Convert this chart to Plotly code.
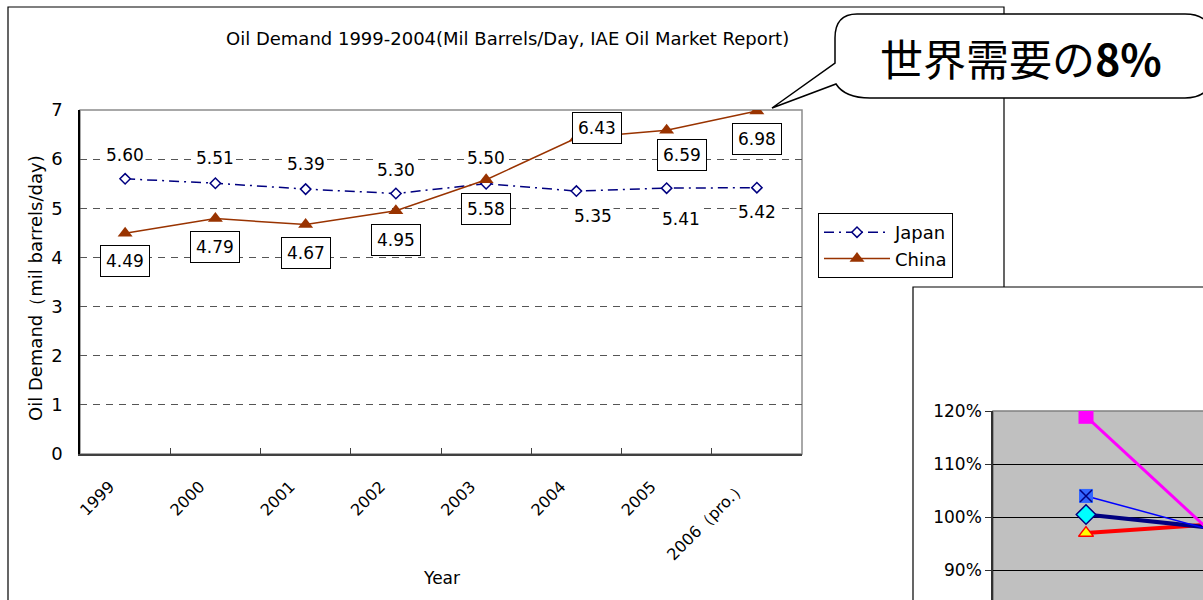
import plotly.graph_objects as go

W, H = 1203, 600

years = ["1999", "2000", "2001", "2002", "2003", "2004", "2005", "2006（pro.）"]
japan = [5.60, 5.51, 5.39, 5.30, 5.50, 5.35, 5.41, 5.42]
china = [4.49, 4.79, 4.67, 4.95, 5.58, 6.43, 6.59, 6.98]

# label offsets (px) relative to each point
japan_shift = [(0, 24), (0, 25), (0, 25), (0, 24), (0, 26), (17, -25), (14, -31), (0, -24)]
china_shift = [(0, -28), (0, -28), (0, -28), (0, -29), (0, -29), (21, 10), (15, -25), (0, -28)]

# partial second chart (right-bottom corner)
idx2 = [0, 1]
pink = [119.0, 86.6]
blue = [104.0, 94.5]
navy = [100.5, 96.8]
red = [97.0, 99.4]
pct_ticks = [90, 100, 110, 120]
pct_text = ["90%", "100%", "110%", "120%"]

FONT = "DejaVu Sans"


def px(x):
    return x / W


def py(y):
    return 1 - y / H


fig = go.Figure()

fig.add_trace(go.Scatter(
    x=list(range(len(years))), y=japan, name="Japan", mode="lines+markers",
    line=dict(color="#000080", width=1.5, dash="10px,5px,2px,5px"),
    marker=dict(symbol="diamond", size=8, color="white",
                line=dict(color="#000080", width=1.5))
))
fig.add_trace(go.Scatter(
    x=list(range(len(years))), y=china, name="China", mode="lines+markers",
    line=dict(color="#993300", width=1.5),
    marker=dict(symbol="triangle-up", size=13, color="#993300")
))

# second chart
fig.add_trace(go.Scatter(x=idx2, y=red, xaxis="x2", yaxis="y2", showlegend=False,
                         mode="lines+markers", line=dict(color="#FF0000", width=4),
                         marker=dict(symbol="triangle-up", size=13, color="#FFFF00",
                                     line=dict(color="#FF0000", width=1.5))))
fig.add_trace(go.Scatter(x=idx2, y=navy, xaxis="x2", yaxis="y2", showlegend=False,
                         mode="lines+markers", line=dict(color="#000080", width=4),
                         marker=dict(symbol="diamond", size=15, color="#00FFFF",
                                     line=dict(color="#000080", width=1.5))))
fig.add_trace(go.Scatter(x=idx2, y=blue, xaxis="x2", yaxis="y2", showlegend=False,
                         mode="lines+markers", line=dict(color="#0000FF", width=1.5),
                         marker=dict(symbol="square", size=14, color="#3366FF")))
fig.add_trace(go.Scatter(x=idx2, y=blue, xaxis="x2", yaxis="y2", showlegend=False,
                         mode="markers",
                         marker=dict(symbol="x-thin", size=12, color="#000080",
                                     line=dict(color="#000080", width=1.5))))
fig.add_trace(go.Scatter(x=idx2, y=pink, xaxis="x2", yaxis="y2", showlegend=False,
                         mode="lines+markers", line=dict(color="#FF00FF", width=3),
                         marker=dict(symbol="square", size=15, color="#FF00FF")))

# dummy trace so the boundary-tick axis is drawn
fig.add_trace(go.Scatter(x=[None], y=[None], xaxis="x3", yaxis="y", showlegend=False,
                         hoverinfo="skip"))

# value labels
for i, v in enumerate(japan):
    fig.add_annotation(x=i, y=v, text=f"{v:.2f}", showarrow=False,
                       xanchor="center", yanchor="middle",
                       xshift=japan_shift[i][0], yshift=japan_shift[i][1],
                       bgcolor="white", font=dict(size=17, color="black", family=FONT))
for i, v in enumerate(china):
    fig.add_annotation(x=i, y=v, text=f"{v:.2f}", showarrow=False,
                       xanchor="center", yanchor="middle",
                       xshift=china_shift[i][0], yshift=china_shift[i][1],
                       bgcolor="white", bordercolor="black", borderwidth=1, borderpad=5,
                       font=dict(size=17, color="black", family=FONT))


def label(x, y, text, size=16, angle=0, family=FONT):
    fig.add_annotation(x=px(x), y=py(y), xref="paper", yref="paper", showarrow=False,
                       xanchor="center", yanchor="middle", text=text, textangle=angle,
                       font=dict(size=size, color="black", family=family))


label(508, 38, "Oil Demand 1999-2004(Mil Barrels/Day, IAE Oil Market Report)", 18)
label(35, 288, "Oil Demand（mil barrels/day)", 18, -90)
label(441, 578, "Year", 17)


def path(points):
    s = ""
    for cmd, *pts in points:
        s += cmd + " " + " ".join(f"{px(a):.5f},{py(b):.5f}" for a, b in zip(pts[::2], pts[1::2])) + " "
    return s + "Z"


shapes = []
# outer frame of main chart
shapes.append(dict(type="rect", xref="paper", yref="paper", layer="below",
                   x0=px(8), x1=px(1004), y0=py(7), y1=py(610),
                   line=dict(color="black", width=1.2), fillcolor="white"))
# main plot area border (top/right gray)
shapes.append(dict(type="rect", xref="paper", yref="paper", layer="below",
                   x0=px(80), x1=px(802), y0=py(110), y1=py(454),
                   line=dict(color="#8c8c8c", width=1.5)))
# frame of the second chart
shapes.append(dict(type="rect", xref="paper", yref="paper", layer="below",
                   x0=px(913), x1=px(1220), y0=py(287), y1=py(620),
                   line=dict(color="black", width=1.2), fillcolor="white"))
shapes.append(dict(type="rect", xref="paper", yref="paper", layer="below",
                   x0=px(993), x1=px(1220), y0=py(411), y1=py(620),
                   line=dict(color="#808080", width=1.5), fillcolor="#C0C0C0"))
# speech bubble
bubble = path([
    ("M", 857, 14), ("L", 1185, 14), ("Q", 1212, 14, 1212, 40), ("L", 1212, 72),
    ("Q", 1212, 98, 1185, 98), ("L", 870, 98), ("Q", 845, 98, 836, 84),
    ("L", 772, 108), ("L", 835, 63), ("L", 835, 38), ("Q", 835, 14, 857, 14),
])
shapes.append(dict(type="path", xref="paper", yref="paper", path=bubble, layer="above",
                   line=dict(color="black", width=1.5), fillcolor="white"))
label(1021, 57, "世界需要の<b>8%</b>", 43, 0, "Noto Sans CJK JP")

fig.update_layout(
    width=W, height=H,
    margin=dict(l=0, r=0, t=0, b=0),
    paper_bgcolor="white",
    plot_bgcolor="rgba(0,0,0,0)",
    shapes=shapes,
    legend=dict(x=px(818), y=py(213), xanchor="left", yanchor="top",
                bgcolor="white", bordercolor="black", borderwidth=1,
                font=dict(size=18, color="black", family=FONT),
                itemwidth=66, tracegroupgap=0),
    xaxis=dict(domain=[px(80), px(802)], range=[-0.5, 7.5], automargin=False,
               tickvals=[k - 0.17 for k in range(len(years))], ticktext=years,
               showgrid=False, showline=True, linecolor="#404040", linewidth=2,
               ticks="", zeroline=False, ticklabelstandoff=15,
               tickangle=-45, tickfont=dict(size=16, color="black", family=FONT)),
    # boundary ticks on a twin axis
    xaxis3=dict(domain=[px(80), px(802)], range=[-0.5, 7.5], anchor="y", overlaying="x",
                side="bottom", tickvals=[k + 0.5 for k in range(len(years))],
                showticklabels=False, ticks="inside", ticklen=6, tickcolor="#404040",
                showgrid=False, zeroline=False, automargin=False),
    yaxis=dict(domain=[py(454), py(110)], range=[0, 7], dtick=1, automargin=False,
               showgrid=True, gridcolor="#555555", gridwidth=1, griddash="7px,6px",
               zeroline=False, showline=True, linecolor="black", linewidth=1.5,
               ticks="", ticklabelstandoff=12,
               tickfont=dict(size=18, color="black", family=FONT)),
    xaxis2=dict(domain=[px(993), 1], range=[-0.5, 0.629], anchor="y2", automargin=False,
                showgrid=False, showticklabels=False, zeroline=False, showline=False),
    yaxis2=dict(domain=[0, py(411)], range=[84.4, 120], anchor="x2", automargin=False,
                tickvals=pct_ticks, ticktext=pct_text, showgrid=True,
                gridcolor="black", gridwidth=1.2, zeroline=False,
                showline=True, linecolor="#303030", linewidth=1.5,
                ticks="outside", ticklen=6, tickcolor="#303030",
                tickfont=dict(size=17, color="black", family=FONT)),
)

fig.write_html("out.html", config={"displayModeBar": False},
               post_script="document.body.style.margin='0';document.body.style.overflow='hidden';")
